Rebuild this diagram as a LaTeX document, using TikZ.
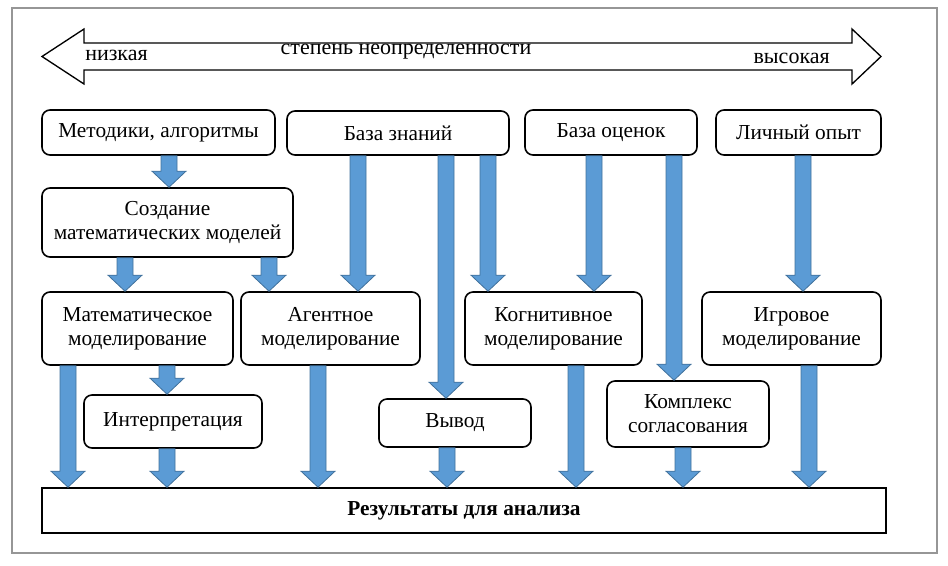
\documentclass[tikz,border=0pt]{standalone}
\usepackage{fontspec}
\setmainfont{Liberation Serif}
\usetikzlibrary{positioning,calc}
\definecolor{arrowfill}{RGB}{91,155,213}
\definecolor{arrowline}{RGB}{65,113,156}
\definecolor{framegray}{RGB}{150,150,150}

% vertical block arrow: from #1 down to #2, at column x = #3
\newcommand{\blockarrow}[3]{%
  \filldraw[barrow] let \p1=(#1), \p2=(#2), \p3=(#3,0) in
    (\x3-6pt,\y1) -- (\x3+6pt,\y1) -- (\x3+6pt,\y2+12pt) -- (\x3+12.75pt,\y2+12pt)
    -- (\x3,\y2) -- (\x3-12.75pt,\y2+12pt) -- (\x3-6pt,\y2+12pt) -- cycle;}

\begin{document}
\begin{tikzpicture}[
    x=0.75pt, y=-0.75pt,
    box/.style={rectangle, draw=black, line width=1.2pt, rounded corners=6pt, fill=white, inner sep=0pt, align=center, font=\fontsize{16}{18}\selectfont},
    resbox/.style={rectangle, draw=black, line width=1.2pt, fill=white, inner sep=0pt, font=\bfseries\fontsize{16}{18}\selectfont},
    wh/.style 2 args={minimum width=#1*0.75pt, minimum height=#2*0.75pt},
    barrow/.style={fill=arrowfill, draw=arrowline, line width=0.6pt},
    lbl/.style={inner sep=0pt, font=\fontsize{16.5}{18}\selectfont}
]
    \useasboundingbox (0,0) rectangle (948,565);
    \draw[framegray, line width=0.8pt] (12,8) rectangle (937,553);

    % uncertainty scale
    \draw[line width=1pt, fill=white] (42,56.5) -- (84,29) -- (84,43) -- (852,43) -- (852,29) -- (881,56.5)
        -- (852,84) -- (852,70) -- (84,70) -- (84,84) -- cycle;
    \node[lbl, anchor=west] (low) at (85,55) {низкая};
    \node[lbl] (scale) at (406,52) {степень неопределенности};
    \node[lbl, anchor=east] (high) at (830,58) {высокая};

    % sources
    \node[box, wh={233}{45}] (metod) at (158.5,132.5) {Методики, алгоритмы};
    \node[box, wh={222}{44}] (bz) at (398,133) {База знаний};
    \node[box, wh={172}{45}] (bo) at (611,132.5) {База оценок};
    \node[box, wh={165}{45}] (lo) at (798.5,132.5) {Личный опыт};

    \node[box, wh={251}{69}] (sozd) at (167.5,222.5) {Создание\\математических моделей};

    % modelling
    \node[box, wh={191}{73}] (matmod) at (137.5,328.5) {Математическое\\моделирование};
    \node[box, wh={179}{73}] (agent) at (330.5,328.5) {Агентное\\моделирование};
    \node[box, wh={177}{73}] (kogn) at (553.5,328.5) {Когнитивное\\моделирование};
    \node[box, wh={179}{73}] (igr) at (791.5,328.5) {Игровое\\моделирование};

    \node[box, wh={178}{53}] (interp) at (173,421.5) {Интерпретация};
    \node[box, wh={152}{48}] (vyvod) at (455,423) {Вывод};
    \node[box, wh={162}{66}] (kompl) at (688,414) {Комплекс\\согласования};

    \node[resbox, wh={844}{45}] (rez) at (464,510.5) {Результаты для анализа};

    % arrows
    \blockarrow{metod.south}{sozd.north}{169}
    \blockarrow{bz.south}{agent.north}{358}
    \blockarrow{bz.south}{vyvod.north}{446}
    \blockarrow{bz.south}{kogn.north}{488}
    \blockarrow{bo.south}{kogn.north}{594}
    \blockarrow{bo.south}{kompl.north}{674}
    \blockarrow{lo.south}{igr.north}{803}
    \blockarrow{sozd.south}{matmod.north}{125}
    \blockarrow{sozd.south}{agent.north}{269}
    \blockarrow{matmod.south}{rez.north}{68}
    \blockarrow{matmod.south}{interp.north}{167}
    \blockarrow{interp.south}{rez.north}{167}
    \blockarrow{agent.south}{rez.north}{318}
    \blockarrow{vyvod.south}{rez.north}{447}
    \blockarrow{kogn.south}{rez.north}{576}
    \blockarrow{kompl.south}{rez.north}{683}
    \blockarrow{igr.south}{rez.north}{809}
\end{tikzpicture}
\end{document}
